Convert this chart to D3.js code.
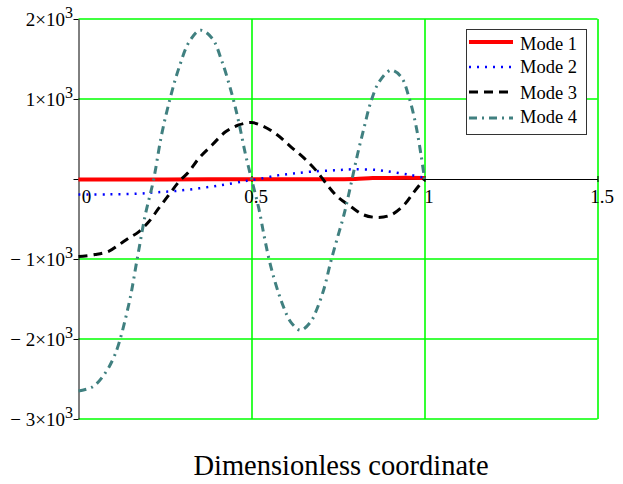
<!DOCTYPE html>
<html>
<head>
<meta charset="utf-8">
<script src="https://cdn.jsdelivr.net/npm/d3@7"></script>
<style>
  html, body { margin: 0; padding: 0; background: #fff; }
  svg { display: block; font-family: "Liberation Serif", "Times New Roman", serif; }
</style>
</head>
<body>
<div id="chart"></div>
<script>
// tick values and labels
const xTicks = [0, 0.5, 1, 1.5];
const xTickLabels = ["0", "0.5", "1", "1.5"];
const yTicks = [2000, 1000, 0, -1000, -2000, -3000];
const yTickMantissa = ["2", "1", "", "\u2212 1", "\u2212 2", "\u2212 3"];
const yTickExponent = "3";

const seriesNames = ["Mode 1", "Mode 2", "Mode 3", "Mode 4"];

// values
const mode1X = [0, 0.25, 0.5, 0.75, 0.8, 0.85, 0.9, 1];
const mode1Y = [-5, -5, -4, -2, 0, 12, 14, 14];

const mode2X = [0, 0.087, 0.174, 0.222, 0.28, 0.348, 0.415, 0.473, 0.5, 0.517, 0.57, 0.618, 0.671, 0.738, 0.792, 0.864, 0.912, 0.96, 1];
const mode2Y = [-195, -192, -183, -167, -150, -117, -75, -33, -12, -4, 42, 67, 92, 108, 121, 112, 83, 50, 15];

const mode3X = [0, 0.048, 0.087, 0.116, 0.145, 0.174, 0.203, 0.232, 0.261, 0.29, 0.319, 0.348, 0.386, 0.425, 0.463, 0.5, 0.536, 0.575, 0.613, 0.652, 0.69, 0.719, 0.748, 0.787, 0.825, 0.864, 0.903, 0.941, 0.97, 1];
const mode3Y = [-970, -945, -905, -825, -740, -660, -535, -365, -200, -35, 90, 260, 425, 590, 675, 705, 655, 550, 405, 260, 90, -75, -220, -345, -450, -480, -450, -325, -160, 0];

const mode4X = [0, 0.04, 0.07, 0.105, 0.145, 0.17, 0.193, 0.217, 0.24, 0.265, 0.29, 0.32, 0.352, 0.386, 0.415, 0.444, 0.463, 0.483, 0.5, 0.521, 0.536, 0.55, 0.565, 0.58, 0.594, 0.613, 0.642, 0.671, 0.69, 0.71, 0.729, 0.748, 0.767, 0.787, 0.806, 0.825, 0.845, 0.869, 0.903, 0.932, 0.956, 0.975, 0.99, 1];
const mode4Y = [-2650, -2600, -2470, -2200, -1575, -990, -450, -10, 550, 1010, 1385, 1715, 1860, 1760, 1465, 1050, 715, 300, 0, -365, -700, -990, -1240, -1450, -1615, -1785, -1890, -1785, -1615, -1365, -1035, -740, -450, -75, 300, 635, 965, 1215, 1360, 1280, 1010, 675, 300, 0];

const width = 623;
const height = 484;

const svg = d3.select("#chart")
  .append("svg")
  .attr("width", width)
  .attr("height", height);

const x = d3.scaleLinear().domain([0, 1.5]).range([78.5, 597.5]);
const y = d3.scaleLinear().domain([-3000, 2000]).range([419, 19]);

const green = "#00ff00";

// grid
svg.append("g")
  .selectAll("line")
  .data(yTicks.filter((d) => d !== 0))
  .join("line")
  .attr("x1", x(0))
  .attr("x2", x(1.5))
  .attr("y1", (d) => Math.round(y(d)))
  .attr("y2", (d) => Math.round(y(d)))
  .attr("stroke", green)
  .attr("stroke-width", 1.6);

svg.append("g")
  .selectAll("line")
  .data([0.5, 1, 1.5])
  .join("line")
  .attr("x1", (d) => Math.round(x(d)))
  .attr("x2", (d) => Math.round(x(d)))
  .attr("y1", y(2000))
  .attr("y2", y(-3000))
  .attr("stroke", green)
  .attr("stroke-width", 1.6);

// axes
const xAxis = svg.append("g")
  .attr("transform", `translate(0,${y(0)})`)
  .call(d3.axisBottom(x).tickValues([0.5, 1, 1.5]).tickSize(3).tickSizeOuter(0).tickFormat(""));
xAxis.selectAll(".tick line").attr("y1", -3).attr("stroke", "#000");
xAxis.select(".domain").attr("stroke", "#000");

const yAxis = svg.append("g")
  .attr("transform", `translate(${x(0)},0)`)
  .call(d3.axisLeft(y).tickValues(yTicks).tickSize(5).tickSizeOuter(0).tickFormat(""));
yAxis.selectAll("line, .domain").attr("stroke", "#000");

// tick labels
svg.append("g")
  .selectAll("text")
  .data(xTicks)
  .join("text")
  .attr("x", (d, i) => x(d) + (i === 0 ? 8 : 4.5))
  .attr("y", y(0) + 24)
  .attr("text-anchor", "middle")
  .attr("font-size", 19)
  .attr("fill", "#000")
  .text((d, i) => xTickLabels[i]);

const yLabel = svg.append("g")
  .selectAll("text")
  .data(yTicks.filter((d, i) => yTickMantissa[i] !== ""))
  .join("text")
  .attr("x", 73)
  .attr("y", (d) => y(d) + 7)
  .attr("text-anchor", "end")
  .attr("font-size", 19)
  .attr("fill", "#000");
yLabel.append("tspan").text((d) => yTickMantissa[yTicks.indexOf(d)] + "\u00d710");
yLabel.append("tspan").attr("dy", -8.5).attr("font-size", 16).text(yTickExponent);

// curves
const line = d3.line()
  .x((d) => x(d[0]))
  .y((d) => y(d[1]))
  .curve(d3.curveCatmullRom.alpha(0.5));

const series = [
  { xs: mode1X, ys: mode1Y, color: "#ff0000", w: 4, dash: null },
  { xs: mode2X, ys: mode2Y, color: "#0000ff", w: 2.5, dash: "2 6" },
  { xs: mode3X, ys: mode3Y, color: "#000000", w: 3, dash: "9 6" },
  { xs: mode4X, ys: mode4Y, color: "#408080", w: 3, dash: "8 5 2 5" }
];

svg.append("g")
  .selectAll("path")
  .data(series)
  .join("path")
  .attr("fill", "none")
  .attr("stroke", (d) => d.color)
  .attr("stroke-width", (d) => d.w)
  .attr("stroke-dasharray", (d) => d.dash)
  .attr("d", (d) => line(d.xs.map((v, i) => [v, d.ys[i]])));

// legend
const legend = svg.append("g");
legend.append("rect")
  .attr("x", 466.5)
  .attr("y", 29.5)
  .attr("width", 120)
  .attr("height", 105)
  .attr("fill", "#fff")
  .attr("stroke", "#333")
  .attr("stroke-width", 1);

const legendLineY = [42, 67, 92, 118];
const legendTextY = [50, 73, 99, 123];

legend.selectAll("line")
  .data(series)
  .join("line")
  .attr("x1", 469)
  .attr("x2", 513)
  .attr("y1", (d, i) => legendLineY[i])
  .attr("y2", (d, i) => legendLineY[i])
  .attr("stroke", (d) => d.color)
  .attr("stroke-width", (d) => d.w)
  .attr("stroke-dasharray", (d) => d.dash);

legend.selectAll("text")
  .data(seriesNames)
  .join("text")
  .attr("x", 520)
  .attr("y", (d, i) => legendTextY[i])
  .attr("font-size", 18.5)
  .attr("fill", "#000")
  .text((d) => d);

// axis title
svg.append("text")
  .attr("x", 341)
  .attr("y", 475)
  .attr("text-anchor", "middle")
  .attr("font-size", 28.5)
  .attr("fill", "#000")
  .text("Dimensionless coordinate");
</script>
</body>
</html>
